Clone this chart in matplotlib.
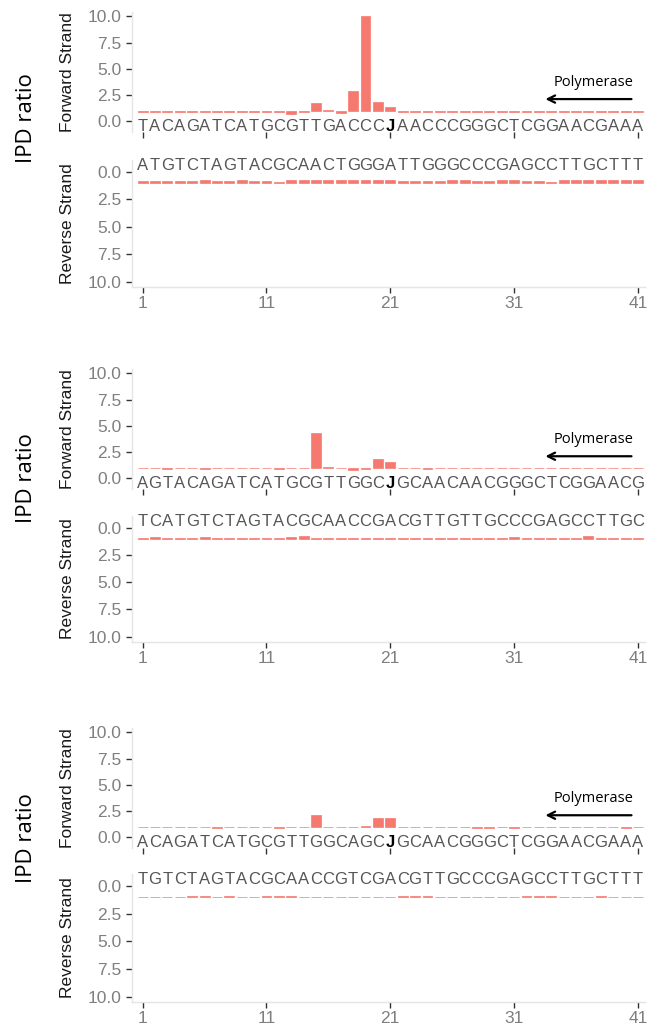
import numpy as np
import matplotlib
matplotlib.use('Agg')
import matplotlib.pyplot as plt

plt.rcParams['font.family'] = ['Liberation Sans', 'DejaVu Sans']

# Datos: IPD ratio por posicion (1..41) para cada panel
positions = list(range(1, 42))
xticks = [1, 11, 21, 31, 41]
yticks = [0, 2.5, 5, 7.5, 10]

seq_fwd1 = "TACAGATCATGCGTTGACCCJAACCCGGGCTCGGAACGAAA"
seq_rev1 = "ATGTCTAGTACGCAACTGGGATTGGGCCCGAGCCTTGCTTT"
seq_fwd2 = "AGTACAGATCATGCGTTGGCJGCAACAACGGGCTCGGAACG"
seq_rev2 = "TCATGTCTAGTACGCAACCGACGTTGTTGCCCGAGCCTTGC"
seq_fwd3 = "ACAGATCATGCGTTGGCAGCJGCAACGGGCTCGGAACGAAA"
seq_rev3 = "TGTCTAGTACGCAACCGTCGACGTTGCCCGAGCCTTGCTTT"

fwd1 = [0.88, 0.88, 0.88, 0.88, 0.86, 0.86, 0.88, 0.88, 0.88, 0.86,
        0.86, 0.84, 0.65, 0.9, 1.7, 1.1, 0.8, 2.9, 10.0, 1.8,
        1.35, 0.88, 0.88, 0.88, 0.88, 0.88, 0.88, 0.83, 0.88, 0.88,
        0.88, 0.88, 0.88, 0.88, 0.86, 0.86, 0.88, 0.88, 0.88, 0.88, 0.88]
rev1 = [0.86, 0.86, 0.86, 0.86, 0.86, 0.8, 0.86, 0.86, 0.8, 0.86,
        0.88, 0.95, 0.8, 0.8, 0.8, 0.8, 0.8, 0.8, 0.8, 0.8,
        0.8, 0.86, 0.86, 0.86, 0.86, 0.8, 0.8, 0.86, 0.86, 0.8,
        0.8, 0.86, 0.86, 0.98, 0.8, 0.8, 0.8, 0.8, 0.8, 0.8, 0.76]
fwd2 = [0.97, 0.97, 0.9, 0.97, 0.97, 0.9, 0.97, 0.97, 0.97, 0.97,
        0.97, 0.9, 0.97, 0.97, 4.35, 1.1, 0.97, 0.75, 0.9, 1.85,
        1.55, 0.98, 0.97, 0.9, 0.97, 0.97, 0.97, 0.97, 0.97, 0.97,
        0.97, 0.97, 0.97, 0.97, 0.97, 0.97, 0.97, 0.97, 0.97, 0.97, 0.97]
rev2 = [0.95, 0.82, 0.93, 0.95, 0.95, 0.82, 0.93, 0.95, 0.95, 0.93,
        0.93, 0.93, 0.82, 0.8, 0.93, 0.93, 0.95, 0.93, 0.93, 0.95,
        0.93, 0.93, 0.95, 0.93, 0.95, 0.95, 0.93, 0.95, 0.95, 0.93,
        0.85, 0.93, 0.93, 0.95, 0.95, 0.93, 0.8, 0.93, 0.95, 0.95, 0.95]
fwd3 = [0.95, 0.95, 0.97, 0.97, 0.97, 0.97, 0.92, 0.97, 0.97, 0.97,
        0.97, 0.92, 0.97, 0.97, 2.1, 0.97, 0.97, 0.97, 1.08, 1.8,
        1.8, 0.97, 0.97, 0.95, 0.97, 0.95, 0.97, 0.92, 0.92, 0.97,
        0.92, 0.97, 0.97, 0.97, 0.97, 0.97, 0.97, 0.97, 0.97, 0.92, 0.97]
rev3 = [0.97, 0.97, 0.97, 0.97, 0.9, 0.9, 0.97, 0.92, 0.97, 0.97,
        0.9, 0.93, 0.93, 0.97, 0.97, 0.97, 0.97, 0.97, 0.97, 0.97,
        0.97, 0.93, 0.93, 0.93, 0.97, 0.97, 0.97, 0.97, 0.97, 0.97,
        0.97, 0.93, 0.93, 0.93, 0.97, 0.97, 0.97, 0.88, 0.97, 0.97, 0.97]

panels = [(fwd1, rev1, seq_fwd1, seq_rev1),
          (fwd2, rev2, seq_fwd2, seq_rev2),
          (fwd3, rev3, seq_fwd3, seq_rev3)]

# posiciones de los ejes en pixeles (top, bottom)
W, H = 653, 1027
ax_left, ax_right = 131.5, 645.4
fwd_rows = [(12.3, 131.5), (369.1, 488.8), (728.1, 847.8)]
rev_rows = [(160.0, 286.7), (516.3, 641.6), (874.4, 1001.7)]
ipd_y = [118, 478, 838]

bar_col = '#F6796F'
txt_col = '#555555'
tick_col = '#7F7F7F'
line_col = '#E5E5E5'


def make_ax(fig, top, bottom):
    return fig.add_axes([ax_left / W, 1 - bottom / H,
                         (ax_right - ax_left) / W, (bottom - top) / H])


def style(ax, bottom_line):
    for s in ['top', 'right']:
        ax.spines[s].set_visible(False)
    ax.spines['left'].set_color(line_col)
    ax.spines['left'].set_linewidth(1.0)
    if bottom_line:
        ax.spines['bottom'].set_color(line_col)
        ax.spines['bottom'].set_linewidth(1.0)
    else:
        ax.spines['bottom'].set_visible(False)
    ax.set_xlim(0.1, 41.6)
    ax.set_xticks(xticks)
    ax.set_yticks(yticks)
    ax.set_yticklabels(['%.1f' % t for t in yticks])
    ax.tick_params(axis='both', colors='#333333', labelcolor=tick_col,
                   labelsize=12.5, length=4, width=1, pad=3)


fig = plt.figure(figsize=(W / 100, H / 100), dpi=100)

for i, (fv, rv, sf, sr) in enumerate(panels):
    # Forward strand
    ax = make_ax(fig, *fwd_rows[i])
    ax.bar(positions, np.array(fv) - 1, bottom=1, width=0.8,
           color=bar_col, edgecolor=bar_col, linewidth=0.5)
    style(ax, False)
    ax.set_ylim(-1.0, 10.4)
    ax.set_xticklabels([])
    for p, ch in zip(positions, sf):
        if ch == 'J':
            ax.text(p, -0.5, ch, ha='center', va='center', fontsize=12,
                    fontweight='bold', color='black')
        else:
            ax.text(p, -0.5, ch, ha='center', va='center', fontsize=12,
                    color=txt_col)
    ax.set_ylabel('Forward Strand', fontsize=12.5, color='#1A1A1A')
    ax.yaxis.set_label_coords((75 - ax_left) / (ax_right - ax_left), 0.5)
    ax.annotate('', xy=(33.3, 2.1), xytext=(40.7, 2.1),
                arrowprops=dict(arrowstyle='->', color='black', lw=1.6,
                                mutation_scale=13))
    ax.text(37.4, 3.7, 'Polymerase', ha='center', va='center',
            fontsize=10.5, family='Open Sans', color='black')

    # Reverse strand
    ax2 = make_ax(fig, *rev_rows[i])
    ax2.bar(positions, np.array(rv) - 1, bottom=1, width=0.8,
            color=bar_col, edgecolor=bar_col, linewidth=0.5)
    style(ax2, True)
    ax2.set_ylim(10.45, -1.05)
    ax2.set_xticklabels([str(t) for t in xticks])
    for p, ch in zip(positions, sr):
        ax2.text(p, -0.55, ch, ha='center', va='center', fontsize=12,
                 color=txt_col)
    ax2.set_ylabel('Reverse Strand', fontsize=12.5, color='#1A1A1A')
    ax2.yaxis.set_label_coords((75 - ax_left) / (ax_right - ax_left), 0.5)

    fig.text(27 / W, 1 - ipd_y[i] / H, 'IPD ratio', rotation=90,
             ha='center', va='center', fontsize=16, family='Open Sans')

fig.savefig('out.png', dpi=100)
